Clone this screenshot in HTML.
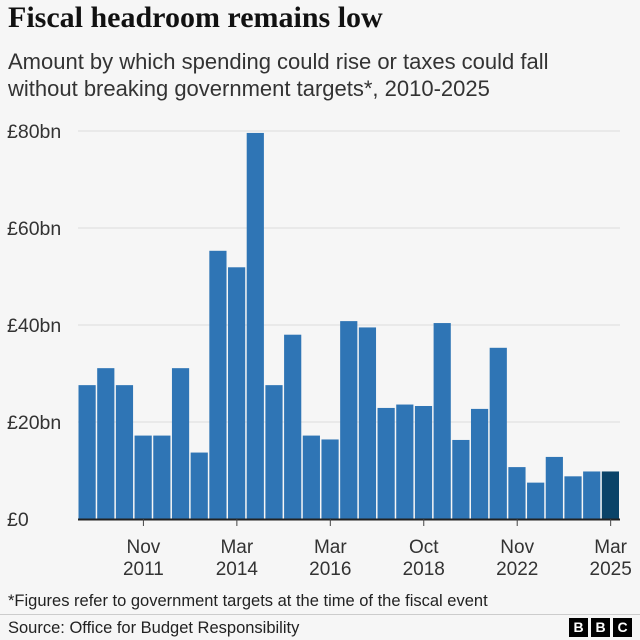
<!DOCTYPE html>
<html><head><meta charset="utf-8"><style>
body{margin:0;background:#f6f6f6;}
#c{position:relative;width:640px;height:640px;background:#f6f6f6;font-family:"Liberation Sans",sans-serif;color:#222;overflow:hidden}
.t{position:absolute;white-space:nowrap}
</style></head><body>
<div id="c">
<div class="t" style="left:8px;top:1px;font-size:30px;font-weight:bold;font-family:'Liberation Serif',serif;color:#111">Fiscal headroom remains low</div>
<div class="t" style="left:8px;top:48px;font-size:22px;line-height:27px;color:#333">Amount by which spending could rise or taxes could fall<br>without breaking government targets*, 2010-2025</div>
<svg id="s" width="640" height="640" style="position:absolute;left:0;top:0"></svg>
<div class="t" style="left:8px;top:592px;font-size:16.5px;color:#222">*Figures refer to government targets at the time of the fiscal event</div>
<div style="position:absolute;left:0;top:614px;width:640px;height:1px;background:#ccc"></div>
<div class="t" style="left:8px;top:619px;font-size:16.5px;color:#222">Source: Office for Budget Responsibility</div>
<div style="position:absolute;left:569px;top:618px;display:flex;gap:3px">
<span style="width:19px;height:19px;background:#000;color:#fff;font-weight:bold;font-size:14px;text-align:center;line-height:19px">B</span>
<span style="width:19px;height:19px;background:#000;color:#fff;font-weight:bold;font-size:14px;text-align:center;line-height:19px">B</span>
<span style="width:19px;height:19px;background:#000;color:#fff;font-weight:bold;font-size:14px;text-align:center;line-height:19px">C</span>
</div>
</div>
<script>
const values=[27.6,31.1,27.6,17.2,17.2,31.1,13.7,55.3,51.9,79.6,27.6,38.0,17.2,16.4,40.8,39.5,22.9,23.6,23.3,40.4,16.3,22.7,35.3,10.7,7.5,12.8,8.8,9.8,9.8];
const yTicks=[0,20,40,60,80];
const yTickLabels=["£0","£20bn","£40bn","£60bn","£80bn"];
const xTickIndex=[3,8,13,18,23,28];
const xTickLabels=[["Nov","2011"],["Mar","2014"],["Mar","2016"],["Oct","2018"],["Nov","2022"],["Mar","2025"]];
const NS="http://www.w3.org/2000/svg";
const svg=document.getElementById('s');
const x0=78,x1=620,y0=519,y80=131;
const bw=(x1-x0)/values.length;
const yS=v=>y0-(v/80)*(y0-y80);
const xS=i=>x0+i*bw;
function mk(t,a){const e=document.createElementNS(NS,t);for(const k in a)e.setAttribute(k,a[k]);svg.appendChild(e);return e;}
yTicks.forEach((v,i)=>{
 if(v>0){const g=mk('line',{x1:x0,x2:x1,y1:yS(v),y2:yS(v),stroke:'#dcdcdc','stroke-width':1});
 
 }
 const t=mk('text',{x:7,y:yS(v)+7,'font-size':19.5,fill:'#333','font-family':'Liberation Sans, sans-serif'});
 t.textContent=yTickLabels[i];
 
 
});
values.forEach((v,i)=>{
 const r=mk('rect',{x:xS(i)+0.5,y:yS(v),width:bw-1.5,height:y0-yS(v),fill:i===values.length-1?'#0a4368':'#2f75b5'});
 
 
});
const ax=mk('line',{x1:x0,x2:x1,y1:y0+0.5,y2:y0+0.5,stroke:'#222','stroke-width':2});


xTickIndex.forEach((b,i)=>{
 const cx=xS(b)+bw/2;
 const tk=mk('line',{x1:cx,x2:cx,y1:y0,y2:y0+7,stroke:'#444','stroke-width':1});
 
 
 xTickLabels[i].forEach((s,j)=>{
  const t=mk('text',{x:cx,y:553+j*22,'font-size':19,fill:'#333','text-anchor':'middle','font-family':'Liberation Sans, sans-serif'});
  t.textContent=s;
  
  
 });
});
</script>
</body></html>
